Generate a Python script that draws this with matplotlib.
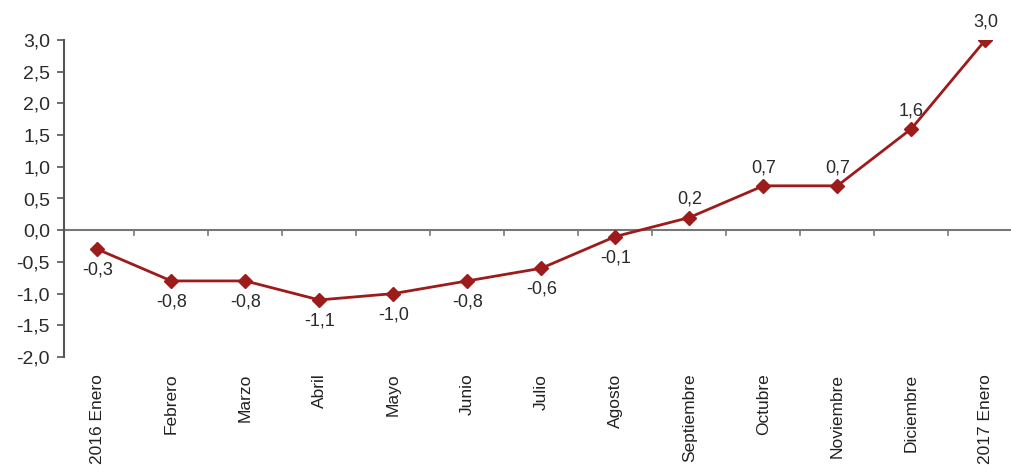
import matplotlib.pyplot as plt
from matplotlib.ticker import FuncFormatter

plt.rcParams['font.family'] = ['Liberation Sans', 'DejaVu Sans']

meses = ["2016 Enero", "Febrero", "Marzo", "Abril", "Mayo", "Junio", "Julio",
         "Agosto", "Septiembre", "Octubre", "Noviembre", "Diciembre", "2017 Enero"]
variacion = [-0.3, -0.8, -0.8, -1.1, -1.0, -0.8, -0.6, -0.1, 0.2, 0.7, 0.7, 1.6, 3.0]

rojo = "#9e1b1b"
gris = "#555555"

fig = plt.figure(figsize=(10.12, 4.65), dpi=100)
ax = fig.add_axes([64 / 1012, 1 - 357 / 465, (1012 - 64) / 1012, 317 / 465])

x = list(range(len(meses)))
ax.plot(x, variacion, color=rojo, lw=2, marker="D", ms=7, mec=rojo, mfc=rojo, zorder=3)

# etiquetas de valor: negativos debajo, positivos encima
for xi, v in zip(x, variacion):
    txt = f"{v:.1f}".replace(".", ",")
    off = 7 if v > 0 else -9
    ax.annotate(txt, (xi, v), xytext=(0, off), textcoords="offset points",
                ha="center", va="bottom" if v > 0 else "top",
                fontsize=13, color="#2a2a2a")

ax.set_ylim(-2.0, 3.0)
ax.set_xlim(-0.45, 12.36)
ax.set_yticks([-2.0, -1.5, -1.0, -0.5, 0.0, 0.5, 1.0, 1.5, 2.0, 2.5, 3.0])
ax.yaxis.set_major_formatter(FuncFormatter(lambda v, p: f"{v:.1f}".replace(".", ",")))
ax.tick_params(axis="y", direction="out", length=5, width=1.2, color=gris,
               labelsize=14, labelcolor="#2a2a2a", pad=5)

for s in ["top", "right", "bottom"]:
    ax.spines[s].set_visible(False)
ax.spines["left"].set_color(gris)
ax.spines["left"].set_linewidth(1.5)

# eje horizontal en cero con marcas entre categorias
ax.axhline(0, color="#777777", lw=1.5, zorder=1)
for b in [i + 0.5 for i in range(len(meses) - 1)]:
    ax.plot([b, b], [0, -0.07], color="#777777", lw=1.2, zorder=1, clip_on=False)

ax.set_xticks(x)
ax.set_xticklabels(meses, rotation=90, ha="center", va="top", fontsize=12.5)
ax.tick_params(axis="x", length=0, pad=12, labelcolor="#222222")

fig.savefig("out.png", dpi=100)
